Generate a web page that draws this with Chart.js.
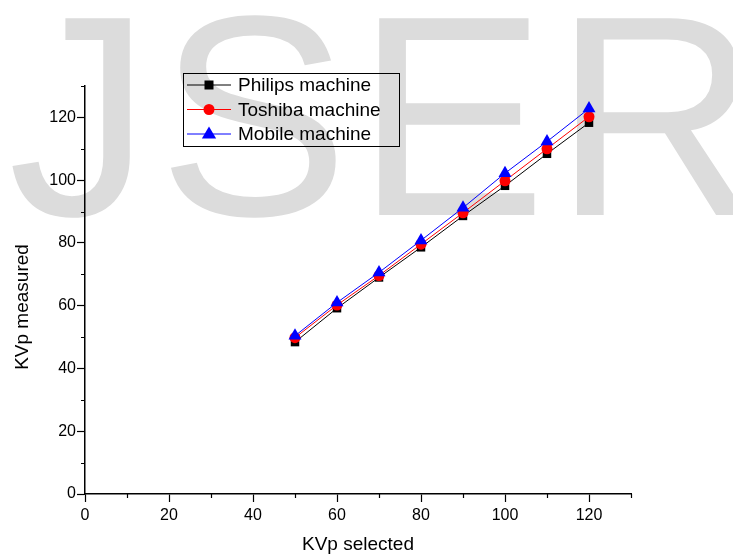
<!DOCTYPE html>
<html>
<head>
<meta charset="utf-8">
<script src="https://cdn.jsdelivr.net/npm/chart.js@4/dist/chart.umd.min.js"></script>
<style>
  html, body { margin: 0; padding: 0; background: #fff; }
  #wrap { width: 733px; height: 558px; }
</style>
</head>
<body>
<div id="wrap"><canvas id="kvpChart" width="733" height="558"></canvas></div>
<script>
var kvpSelected = [50, 60, 70, 80, 90, 100, 110, 120];
var philips = [48.4, 59.2, 69.0, 78.6, 88.6, 98.2, 108.4, 118.3];
var toshiba = [49.8, 60.2, 69.6, 79.6, 89.6, 99.8, 110.0, 120.2];
var mobile = [50.4, 61.0, 70.6, 80.8, 91.2, 102.2, 112.3, 122.8];

var seriesNames = ["Philips machine", "Toshiba machine", "Mobile machine"];
var watermark = "JSER";
var yTitle = "KVp measured";

function toPoints(vals) {
    return kvpSelected.map(function (x, i) { return { x: x, y: vals[i] }; });
}

var FONT = "'Liberation Sans', Arial, sans-serif";

// grey watermark behind everything
var watermarkPlugin = {
    id: "watermark",
    beforeDraw: function (chart) {
        var c = chart.ctx;
        c.save();
        c.fillStyle = "#fff";
        c.fillRect(0, 0, chart.width, chart.height);
        c.fillStyle = "#dcdcdc";
        c.font = "286px " + FONT;
        c.textBaseline = "alphabetic";
        var x = 8;
        for (var i = 0; i < watermark.length; i++) {
            c.fillText(watermark[i], x, 215);
            x += c.measureText(watermark[i]).width + 7;
        }
        c.restore();
    }
};

// short minor ticks every 10 units + y axis title
var minorTicks = {
    id: "minorTicks",
    afterDraw: function (chart) {
        var c = chart.ctx;
        var xs = chart.scales.x, ys = chart.scales.y;
        c.save();
        c.strokeStyle = "#000";
        c.lineWidth = 1.2;
        c.beginPath();
        for (var v = 10; v <= 130; v += 20) {
            var px = Math.round(xs.getPixelForValue(v)) + 0.5;
            c.moveTo(px, xs.top);
            c.lineTo(px, xs.top + 4);
            var py = Math.round(ys.getPixelForValue(v)) + 0.5;
            c.moveTo(ys.right, py);
            c.lineTo(ys.right - 4, py);
        }
        c.stroke();
        c.translate(23, 307);
        c.rotate(-Math.PI / 2);
        c.fillStyle = "#000";
        c.font = "19px " + FONT;
        c.textAlign = "center";
        c.textBaseline = "middle";
        c.fillText(yTitle, 0, 0);
        c.restore();
    }
};

// legend box with line + marker samples
var boxLegend = {
    id: "boxLegend",
    afterDraw: function (chart) {
        var c = chart.ctx;
        var left = 183, top = 73, w = 216, h = 73;
        c.save();
        c.strokeStyle = "#000";
        c.lineWidth = 1;
        c.strokeRect(left + 0.5, top + 0.5, w, h);
        chart.data.datasets.forEach(function (ds, i) {
            var y = 85 + i * 24.5;
            c.strokeStyle = ds.borderColor;
            c.lineWidth = 1;
            c.beginPath();
            c.moveTo(187, y);
            c.lineTo(231, y);
            c.stroke();
            c.fillStyle = ds.pointBackgroundColor;
            c.beginPath();
            if (ds.pointStyle === "rect") {
                c.rect(209 - 4.5, y - 4.5, 9, 9);
            } else if (ds.pointStyle === "circle") {
                c.arc(209, y, ds.pointRadius, 0, Math.PI * 2);
            } else {
                var r = ds.pointRadius;
                c.moveTo(209, y - r);
                c.lineTo(209 + r * 0.95, y + r * 0.6);
                c.lineTo(209 - r * 0.95, y + r * 0.6);
                c.closePath();
            }
            c.fill();
            c.fillStyle = "#000";
            c.font = "19px " + FONT;
            c.textBaseline = "middle";
            c.fillText(ds.label, 238, y + 1);
        });
        c.restore();
    }
};

function tickCol(ctx) {
    return ctx.tick && ctx.tick.value % 20 === 0 ? "#000" : "rgba(0,0,0,0)";
}

new Chart(document.getElementById("kvpChart").getContext("2d"), {
    type: "line",
    data: {
        datasets: [
            {
                label: seriesNames[0], data: toPoints(philips),
                borderColor: "#000000", backgroundColor: "#000000",
                pointBackgroundColor: "#000000", pointBorderColor: "#000000",
                pointStyle: "rect", pointRadius: 6, pointBorderWidth: 0,
                borderWidth: 1, order: 3
            },
            {
                label: seriesNames[1], data: toPoints(toshiba),
                borderColor: "#ff0000", backgroundColor: "#ff0000",
                pointBackgroundColor: "#ff0000", pointBorderColor: "#ff0000",
                pointStyle: "circle", pointRadius: 5.5, pointBorderWidth: 0,
                borderWidth: 1, order: 2
            },
            {
                label: seriesNames[2], data: toPoints(mobile),
                borderColor: "#0000ff", backgroundColor: "#0000ff",
                pointBackgroundColor: "#0000ff", pointBorderColor: "#0000ff",
                pointStyle: "triangle", pointRadius: 7.5, pointBorderWidth: 0,
                borderWidth: 1, order: 1
            }
        ]
    },
    options: {
        responsive: false,
        animation: false,
        layout: { padding: { top: 86, right: 102, left: 0, bottom: 0 } },
        plugins: {
            legend: { display: false },
            tooltip: { enabled: false }
        },
        scales: {
            x: {
                type: "linear",
                min: 0, max: 130,
                afterFit: function (s) { s.height = 64; },
                border: { display: true, color: "#000", width: 1.5 },
                grid: { drawOnChartArea: false, drawTicks: true, tickLength: 8, tickColor: tickCol, tickWidth: 1.2 },
                ticks: {
                    stepSize: 10, autoSkip: false, maxRotation: 0, padding: 4,
                    color: "#000", font: { family: FONT, size: 16 },
                    callback: function (v) { return v % 20 === 0 ? v : ""; }
                },
                title: {
                    display: true, text: "KVp selected", color: "#000",
                    font: { family: FONT, size: 19 }, padding: { top: 0, bottom: 2 }
                }
            },
            y: {
                type: "linear",
                min: 0, max: 130,
                afterFit: function (s) { s.width = 85; },
                border: { display: true, color: "#000", width: 1.5 },
                grid: { drawOnChartArea: false, drawTicks: true, tickLength: 8, tickColor: tickCol, tickWidth: 1.2 },
                ticks: {
                    stepSize: 10, autoSkip: false, padding: 1,
                    color: "#000", font: { family: FONT, size: 16 },
                    callback: function (v) { return v % 20 === 0 ? v : ""; }
                },
                title: { display: false }
            }
        }
    },
    plugins: [watermarkPlugin, minorTicks, boxLegend]
});
</script>
</body>
</html>
